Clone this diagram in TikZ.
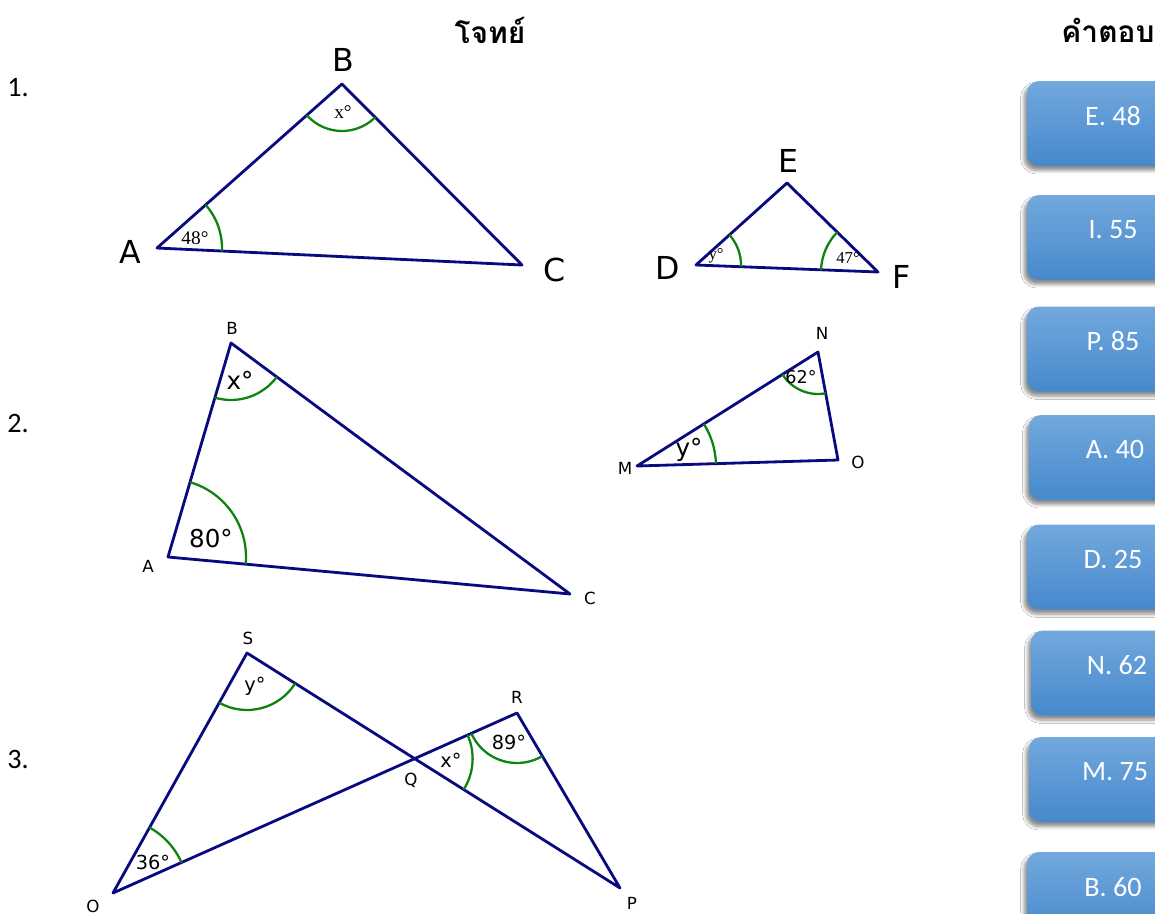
\documentclass[tikz,border=0pt]{standalone}
\usepackage{fontspec}
\setmainfont{Carlito}
\newfontfamily\thaifont[Script=Thai]{Loma}
\newfontfamily\lblfont{DejaVu Sans}
\newfontfamily\serfont{Liberation Serif}
\usepackage{tikz}
\usetikzlibrary{
  angles,
  calc,
  positioning,
  shadows.blur
}
\definecolor{trinavy}{RGB}{10,10,128}
\definecolor{arcgreen}{RGB}{16,130,16}
\definecolor{boxtop}{RGB}{114,168,221}
\definecolor{boxbot}{RGB}{70,137,204}
\tikzset{
  side/.style={draw=trinavy, line width=1.6pt, line join=round},
  arcmark/.style={draw=arcgreen, line width=1.3pt},
  bigvert/.style={font=\lblfont\fontsize{18}{20}\selectfont},
  smallvert/.style={font=\lblfont\fontsize{9.5}{11}\selectfont},
  serangle/.style={font=\serfont\fontsize{11}{12}\selectfont, inner sep=0pt},
  sansangle/.style={font=\lblfont\fontsize{11}{12}\selectfont, inner sep=0pt},
  bigangle/.style={font=\lblfont\fontsize{14}{15}\selectfont, inner sep=0pt},
  qnum/.style={font=\fontsize{16}{18}\selectfont},
  header/.style={font=\thaifont\bfseries\fontsize{17}{20}\selectfont},
  ansbox/.style={rounded corners=2.4mm, minimum width=34.4mm, minimum height=17mm,
    top color=boxtop, bottom color=boxbot, text=white,
    font=\fontsize{16}{18}\selectfont,
    blur shadow={shadow xshift=-0.6mm, shadow yshift=-0.9mm, shadow blur steps=6, shadow opacity=45}}
}
\newcommand{\anstxt}[1]{\raisebox{3.2mm}{#1}}
\begin{document}
\begin{tikzpicture}[x=0.02cm, y=-0.02cm]
  \clip (0,0) rectangle (1155,913);
  \fill[white] (0,0) rectangle (1155,913);

  \node[header] (hq) at (490,30) {โจทย์};
  \node[header] (ha) at (1108,30) {คำตอบ};

  \node[qnum] (n1) at (18,88) {1.};
  \node[qnum] (n2) at (18,423) {2.};
  \node[qnum] (n3) at (18,759) {3.};

  \coordinate (A1) at (157,248);
  \coordinate (B1) at (342,84);
  \coordinate (C1) at (522,265);
  \draw[side] (A1) -- (B1) -- (C1) -- cycle;
  \pic[arcmark, angle radius=13mm] {angle=C1--A1--B1};
  \pic[arcmark, angle radius=9.4mm] {angle=A1--B1--C1};
  \node[bigvert] (lA1) at (130,252) {A};
  \node[bigvert] (lB1) at (343,60) {B};
  \node[bigvert] (lC1) at (555,270) {C};
  \node[serangle] (a48) at (195,238) {48°};
  \node[serangle] (ax1) at (343,112) {x°};

  \coordinate (D) at (696,265);
  \coordinate (E) at (787,183);
  \coordinate (F) at (878,272);
  \draw[side] (D) -- (E) -- (F) -- cycle;
  \pic[arcmark, angle radius=9mm] {angle=F--D--E};
  \pic[arcmark, angle radius=11.4mm] {angle=E--F--D};
  \node[bigvert] (lD) at (668,268) {D};
  \node[bigvert] (lE) at (788,161) {E};
  \node[bigvert] (lF) at (902,277) {F};
  \node[serangle, font=\serfont\fontsize{9.5}{10}\selectfont] (ay1) at (716,256) {y°};
  \node[serangle, font=\serfont\fontsize{9.5}{10}\selectfont] (a47) at (848,258) {47°};

  \coordinate (A2) at (168,557);
  \coordinate (B2) at (231,343);
  \coordinate (C2) at (570,594);
  \draw[side] (A2) -- (B2) -- (C2) -- cycle;
  \pic[arcmark, angle radius=15.6mm] {angle=C2--A2--B2};
  \pic[arcmark, angle radius=11.4mm] {angle=A2--B2--C2};
  \node[smallvert] (lB2) at (232,328) {B};
  \node[smallvert] (lA2) at (148,566) {A};
  \node[smallvert] (lC2) at (590,598) {C};
  \node[bigangle] (a80) at (211,539) {80°};
  \node[bigangle] (ax2) at (240,380) {x°};

  \coordinate (M) at (637,466);
  \coordinate (N) at (818,352);
  \coordinate (O2) at (838,460);
  \draw[side] (M) -- (N) -- (O2) -- cycle;
  \pic[arcmark, angle radius=15.8mm] {angle=O2--M--N};
  \pic[arcmark, angle radius=8.4mm] {angle=M--N--O2};
  \node[smallvert] (lN) at (822,333) {N};
  \node[smallvert] (lM) at (625,468) {M};
  \node[smallvert] (lO2) at (858,462) {O};
  \node[bigangle] (ay2) at (689,450) {y°};
  \node[sansangle, font=\lblfont\fontsize{10}{11}\selectfont] (a62) at (801,377) {62°};

  \coordinate (O3) at (113,893);
  \coordinate (S) at (247,653);
  \coordinate (R) at (517,713);
  \coordinate (P) at (620,888);
  \coordinate (Q) at (intersection of O3--R and S--P);
  \draw[side] (O3) -- (S) -- (P) -- (R) -- cycle;
  \pic[arcmark, angle radius=15mm] {angle=R--O3--S};
  \pic[arcmark, angle radius=11.4mm] {angle=O3--S--P};
  \pic[arcmark, angle radius=10mm] {angle=Q--R--P};
  \pic[arcmark, angle radius=11.6mm] {angle=P--Q--R};
  \node[smallvert] (lS) at (248,638) {S};
  \node[smallvert] (lR) at (517,697) {R};
  \node[smallvert] (lQ) at (411,780) {Q};
  \node[smallvert] (lP) at (632,903) {P};
  \node[smallvert] (lO3) at (93,906) {O};
  \node[sansangle] (ay3) at (255,686) {y°};
  \node[sansangle] (a36) at (153,862) {36°};
  \node[sansangle] (a89) at (509,742) {89°};
  \node[sansangle] (ax3) at (451,760) {x°};

  \node[ansbox] (ans1) at (1113,123.5) {\anstxt{E. 48}};
  \node[ansbox] (ans2) at (1113,237.5) {\anstxt{I. 55}};
  \node[ansbox] (ans3) at (1113,349) {\anstxt{P. 85}};
  \node[ansbox] (ans4) at (1115,457.5) {\anstxt{A. 40}};
  \node[ansbox] (ans5) at (1113,567) {\anstxt{D. 25}};
  \node[ansbox] (ans6) at (1117,673) {\anstxt{N. 62}};
  \node[ansbox] (ans7) at (1115,779.5) {\anstxt{M. 75}};
  \node[ansbox] (ans8) at (1113,894.5) {\anstxt{B. 60}};
\end{tikzpicture}
\end{document}
